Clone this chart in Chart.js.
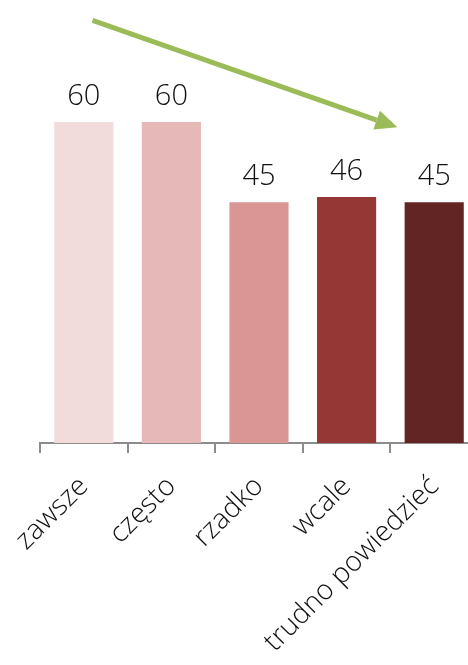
<!DOCTYPE html>
<html>
<head>
<meta charset="utf-8">
<script src="https://cdn.jsdelivr.net/npm/chart.js@4"></script>
<style>
html, body { margin: 0; padding: 0; background: #fff; overflow: hidden; }
#wrap { width: 478px; height: 665px; position: relative; }
</style>
</head>
<body>
<div id="wrap"><canvas id="chart"></canvas></div>
<script>
// data
const categories = ['zawsze', 'często', 'rzadko', 'wcale', 'trudno powiedzieć'];
const values = [60, 60, 45, 46, 45];
const barColors = ['#F2DCDB', '#E6B9B8', '#D99694', '#953735', '#632523'];
// trend arrow, in data units (category index, value)
const arrowFrom = [0.1, 79];
const arrowTo = [3.58, 59];

const fontFamily = "'Segoe UI', 'Open Sans', Lato, sans-serif";

// value labels above bars
const valueLabels = {
  id: 'valueLabels',
  afterDatasetsDraw(chart) {
    const ctx = chart.ctx;
    const meta = chart.getDatasetMeta(0);
    ctx.save();
    ctx.font = '300 29px ' + fontFamily;
    ctx.fillStyle = '#111';
    ctx.textAlign = 'center';
    ctx.textBaseline = 'bottom';
    meta.data.forEach((bar, i) => {
      ctx.fillText(String(values[i]), bar.x, bar.y - 11);
    });
    ctx.restore();
  }
};

// green trend arrow
const trendArrow = {
  id: 'trendArrow',
  afterDatasetsDraw(chart) {
    const x = chart.scales.x, y = chart.scales.y;
    const x1 = x.getPixelForValue(arrowFrom[0]), y1 = y.getPixelForValue(arrowFrom[1]);
    const x2 = x.getPixelForValue(arrowTo[0]), y2 = y.getPixelForValue(arrowTo[1]);
    const ang = Math.atan2(y2 - y1, x2 - x1);
    const headLen = 22, headW = 10;
    const ctx = chart.ctx;
    ctx.save();
    ctx.strokeStyle = '#9BBB59';
    ctx.fillStyle = '#9BBB59';
    ctx.lineWidth = 5;
    ctx.beginPath();
    ctx.moveTo(x1, y1);
    ctx.lineTo(x2 - Math.cos(ang) * headLen, y2 - Math.sin(ang) * headLen);
    ctx.stroke();
    ctx.beginPath();
    ctx.moveTo(x2, y2);
    ctx.lineTo(x2 - Math.cos(ang) * headLen - Math.sin(ang) * headW, y2 - Math.sin(ang) * headLen + Math.cos(ang) * headW);
    ctx.lineTo(x2 - Math.cos(ang) * headLen + Math.sin(ang) * headW, y2 - Math.sin(ang) * headLen - Math.cos(ang) * headW);
    ctx.closePath();
    ctx.fill();
    ctx.restore();
  }
};

const ctx = document.getElementById('chart').getContext('2d');
new Chart(ctx, {
  type: 'bar',
  data: {
    labels: categories,
    datasets: [{
      data: values,
      backgroundColor: barColors,
      borderWidth: 0,
      categoryPercentage: 1,
      barPercentage: 0.675
    }]
  },
  options: {
    responsive: true,
    maintainAspectRatio: false,
    animation: false,
    layout: { padding: { left: 40, right: 0, top: 15, bottom: 0 } },
    plugins: {
      legend: { display: false },
      tooltip: { enabled: false }
    },
    scales: {
      x: {
        grid: {
          display: true,
          drawOnChartArea: false,
          offset: true,
          tickLength: 10,
          color: '#8c8c8c',
          lineWidth: 2
        },
        border: { display: true, color: '#8c8c8c', width: 2 },
        ticks: {
          color: '#111',
          font: { family: fontFamily, size: 28, weight: '300' },
          minRotation: 45,
          maxRotation: 45,
          padding: 17
        },
        afterFit(scale) {
          scale.height = 222;
          scale.paddingLeft = 0;
          scale.paddingRight = 0;
        }
      },
      y: {
        display: false,
        min: 0,
        max: 80
      }
    }
  },
  plugins: [valueLabels, trendArrow]
});
</script>
</body>
</html>
